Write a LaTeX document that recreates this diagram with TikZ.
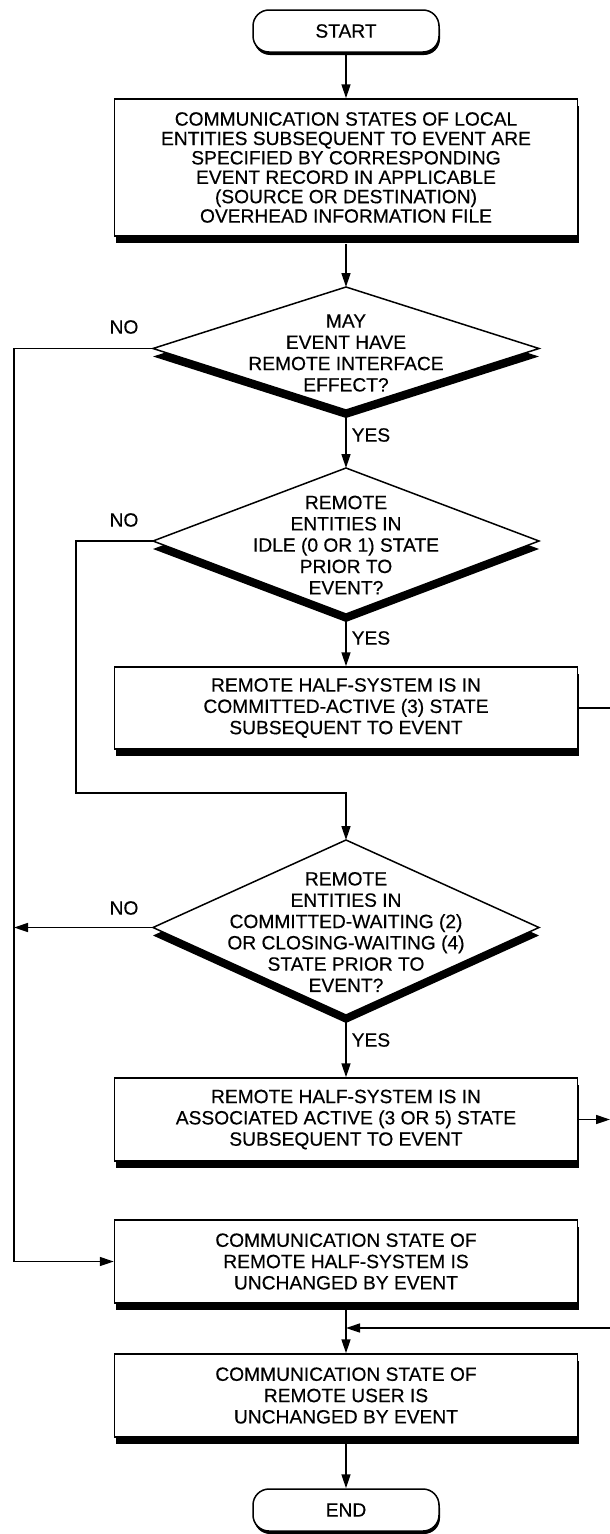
\documentclass[tikz,border=0pt]{standalone}
\usepackage{fontspec}
\setmainfont{Liberation Sans}[FakeBold=0.4]
\usetikzlibrary{arrows.meta,calc,shadows}

\begin{document}
\begin{tikzpicture}[x=1pt,y=-1pt,line width=1.5pt,
  txt/.style={font=\fontsize{19.2}{21.3}\selectfont,align=center,inner sep=0pt},
  boxshadow/.style={drop shadow={shadow xshift=1.5pt,shadow yshift=-7pt,fill=black,opacity=1}},
  dshadow/.style={drop shadow={shadow xshift=0pt,shadow yshift=-8pt,fill=black,opacity=1}},
  tshadow/.style={drop shadow={shadow xshift=1pt,shadow yshift=-3pt,fill=black,opacity=1}},
  proc/.style={txt,draw,fill=white,boxshadow,minimum width=463pt,minimum height=83pt},
  term/.style={txt,draw,fill=white,tshadow,rounded corners=16pt,minimum width=186pt,minimum height=42pt},
  flow/.style={-{Triangle[length=14pt,width=9pt]}},
  lbl/.style={txt}
]
\useasboundingbox (0,0) rectangle (610,1534);

% terminals and process boxes
\node[term] (start) at (346,31) {START};
\node[proc,minimum height=137pt,font=\fontsize{19.2}{19.4}\selectfont] (b1) at (346,167.5)
  {COMMUNICATION STATES OF LOCAL\\ENTITIES SUBSEQUENT TO EVENT ARE\\SPECIFIED BY CORRESPONDING\\EVENT RECORD IN APPLICABLE\\(SOURCE OR DESTINATION)\\OVERHEAD INFORMATION FILE};
\node[proc,minimum height=82pt] (b2) at (346,708)
  {REMOTE HALF-SYSTEM IS IN\\COMMITTED-ACTIVE (3) STATE\\SUBSEQUENT TO EVENT};
\node[proc] (b4) at (346,1119.5)
  {REMOTE HALF-SYSTEM IS IN\\ASSOCIATED ACTIVE (3 OR 5) STATE\\SUBSEQUENT TO EVENT};
\node[proc] (b5) at (346,1261.5)
  {COMMUNICATION STATE OF\\REMOTE HALF-SYSTEM IS\\UNCHANGED BY EVENT};
\node[proc] (b6) at (346,1395.5)
  {COMMUNICATION STATE OF\\REMOTE USER IS\\UNCHANGED BY EVENT};
\node[term] (end) at (346,1510) {END};

% decision diamonds: corner points
\coordinate (d1n) at (346,287);   \coordinate (d1s) at (346,410);
\coordinate (d1w) at (153,348.5); \coordinate (d1e) at (539,348.5);
\coordinate (d2n) at (346,468);   \coordinate (d2s) at (346,614);
\coordinate (d2w) at (153,541);   \coordinate (d2e) at (539,541);
\coordinate (d3n) at (346,840);   \coordinate (d3s) at (346,1015);
\coordinate (d3w) at (153,927.5); \coordinate (d3e) at (539,927.5);

\draw[fill=white,dshadow] (d1n) -- (d1e) -- (d1s) -- (d1w) -- cycle;
\draw[fill=white,dshadow] (d2n) -- (d2e) -- (d2s) -- (d2w) -- cycle;
\draw[fill=white,dshadow] (d3n) -- (d3e) -- (d3s) -- (d3w) -- cycle;

\node[txt] (d1) at (346,353) {MAY\\EVENT HAVE\\REMOTE INTERFACE\\EFFECT?};
\node[txt] (d2) at (346,545) {REMOTE\\ENTITIES IN\\IDLE (0 OR 1) STATE\\PRIOR TO\\EVENT?};
\node[txt] (d3) at (346,932) {REMOTE\\ENTITIES IN\\COMMITTED-WAITING (2)\\OR CLOSING-WAITING (4)\\STATE PRIOR TO\\EVENT?};

% branch labels
\node[lbl] (no1) at (124,327) {NO};
\node[lbl] (no2) at (124,520) {NO};
\node[lbl] (no3) at (124,908) {NO};
\node[lbl,anchor=west] (yes1) at (351,435) {YES};
\node[lbl,anchor=west] (yes2) at (351,638) {YES};
\node[lbl,anchor=west] (yes3) at (351,1040) {YES};

% guide lines at the left and right edges
\coordinate (lx) at (14,0);
\coordinate (rx) at (610,0);
\coordinate (ret) at (610,1328);

% connectors
\draw[flow] (start) -- (b1);
\draw[flow] (b1.south) ++(0,7) -- (d1n);
\draw[flow] (d1s) -- (d2n);
\draw[flow] (d1w) -- (d1w -| lx) |- (b5.west);
\draw[flow] (d2s) -- (b2.north);
\draw[flow] (d2w) -- ++(-77,0) -- ++(0,252) -| (d3n);
\draw (b2.east) -- (b2.east -| rx);
\draw[flow] (d3w) -- (d3w -| lx);
\draw[flow] (d3s) -- (b4.north);
\draw[flow] (b4.east) -- (b4.east -| rx);
\draw[flow] (b5.south) -- (b6.north);
\draw[flow] (ret) -- (ret -| b6.north);
\draw[flow] (b6.south) -- (end.north);
\end{tikzpicture}
\end{document}
